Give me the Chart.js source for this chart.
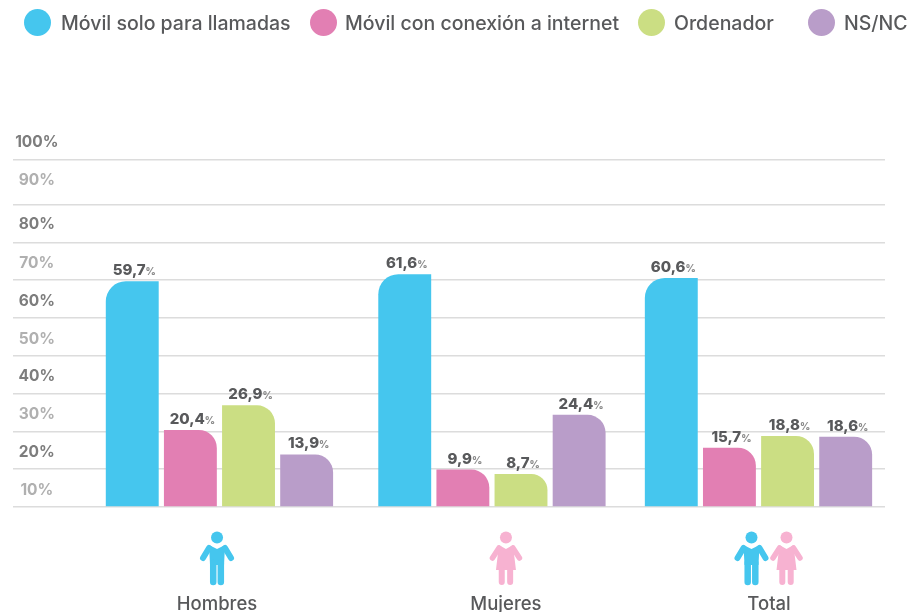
<!DOCTYPE html>
<html lang="es">
<head>
<meta charset="utf-8">
<title>Móvil y ordenador</title>
<script src="https://cdn.jsdelivr.net/npm/chart.js@4"></script>
<style>
  html,body{margin:0;padding:0;background:#fff;}
  #wrap{position:relative;width:912px;height:612px;overflow:hidden;}
  canvas{position:absolute;left:0;top:0;}
  .lg{position:absolute;top:9px;height:27px;font:500 19.5px/27px Inter,sans-serif;color:#58595b;white-space:nowrap;}
  .lg i{position:absolute;left:0;top:0;width:27px;height:27px;border-radius:50%;}
  .lg span{position:absolute;top:1px;}
</style>
</head>
<body>
<div id="wrap"><canvas id="chart" width="912" height="612"></canvas></div>
<script>
const categories = ['Hombres','Mujeres','Total'];
const seriesNames = ['Móvil solo para llamadas','Móvil con conexión a internet','Ordenador','NS/NC'];
const movilLlamadas = [59.7,61.6,60.6];
const movilInternet = [20.4,9.9,15.7];
const ordenador = [26.9,8.7,18.8];
const nsnc = [13.9,24.4,18.6];
const tickLabels = ['10%','20%','30%','40%','50%','60%','70%','80%','90%','100%'];

const gridValues = [0,10,20,30,40,50,60,70,80,91.8];
const tickLabelValues = [4.45,14.45,24.45,34.45,44.45,54.45,64.45,74.65,86.45,96.45];
const tickColors = ['#b0b0b0','#7d7d7d','#b0b0b0','#7d7d7d','#b0b0b0','#7d7d7d','#b0b0b0','#7d7d7d','#b0b0b0','#7d7d7d'];
const groupPositions = [0,1.011,2];
const labelPositions = [-0.009,1.063,2.039];

const colors = ['#45c6ee','#e27fb3','#cbde83','#b99dc9'];
const radii = [{topLeft:20,topRight:0},{topLeft:0,topRight:18},{topLeft:0,topRight:18},{topLeft:0,topRight:18}];
const legendLeft = [[24,61],[310,345],[638,674],[808,844]];
const icons = [['man'],['woman'],['man','woman']];

// legend
const wrap = document.getElementById('wrap');
seriesNames.forEach((n,i)=>{
  const d = document.createElement('div');
  d.className = 'lg';
  d.style.left = legendLeft[i][0]+'px';
  d.innerHTML = `<i style="background:${colors[i]}"></i><span style="left:${legendLeft[i][1]-legendLeft[i][0]}px">${n}</span>`;
  wrap.appendChild(d);
});

function drawMan(ctx,x){
  ctx.fillStyle = ctx.strokeStyle = '#45c6ee';
  ctx.lineCap = 'round'; ctx.lineJoin = 'round';
  ctx.beginPath(); ctx.arc(x,537.5,6,0,Math.PI*2); ctx.fill();
  ctx.beginPath(); ctx.moveTo(x-8,545); ctx.lineTo(x,549); ctx.lineTo(x+8,545);
  ctx.lineTo(x+7,565); ctx.lineTo(x-7,565); ctx.closePath(); ctx.fill();
  ctx.lineWidth = 6;
  ctx.beginPath(); ctx.moveTo(x-8,548); ctx.lineTo(x-14,558); ctx.moveTo(x+8,548); ctx.lineTo(x+14,558); ctx.stroke();
  ctx.lineWidth = 6.5;
  ctx.beginPath(); ctx.moveTo(x-3.8,563); ctx.lineTo(x-3.8,582); ctx.moveTo(x+3.8,563); ctx.lineTo(x+3.8,582); ctx.stroke();
}
function drawWoman(ctx,x){
  ctx.fillStyle = ctx.strokeStyle = '#f7b2d1';
  ctx.lineCap = 'round'; ctx.lineJoin = 'round';
  ctx.beginPath(); ctx.arc(x,537.5,6,0,Math.PI*2); ctx.fill();
  ctx.beginPath(); ctx.moveTo(x-7,545); ctx.lineTo(x,549); ctx.lineTo(x+7,545);
  ctx.lineTo(x+10,570); ctx.lineTo(x-10,570); ctx.closePath(); ctx.fill();
  ctx.lineWidth = 5.5;
  ctx.beginPath(); ctx.moveTo(x-7,548); ctx.lineTo(x-13.5,558); ctx.moveTo(x+7,548); ctx.lineTo(x+13.5,558); ctx.stroke();
  ctx.lineWidth = 6;
  ctx.beginPath(); ctx.moveTo(x-4.2,570); ctx.lineTo(x-4.2,582); ctx.moveTo(x+4.2,570); ctx.lineTo(x+4.2,582); ctx.stroke();
}

// little person icons under the bars
const iconPlugin = {
  id:'iconPlugin',
  afterDraw(chart){
    const ctx = chart.ctx, sx = chart.scales.x;
    ctx.save();
    labelPositions.forEach((p,i)=>{
      const cx = sx.getPixelForValue(p);
      const set = icons[i];
      set.forEach((k,j)=>{
        const x = set.length===2 ? cx + (j===0?-17.5:17.5) : cx;
        if(k==='man') drawMan(ctx,x); else drawWoman(ctx,x);
      });
    });
    ctx.restore();
  }
};

// value labels: big number, small % sign
const valuePlugin = {
  id:'valuePlugin',
  afterDatasetsDraw(chart){
    const ctx = chart.ctx;
    ctx.save();
    ctx.textBaseline = 'alphabetic';
    chart.data.datasets.forEach((ds,di)=>{
      chart.getDatasetMeta(di).data.forEach((bar,i)=>{
        const num = ds.data[i].y.toFixed(1).replace('.',',');
        ctx.font = '800 15px Inter, sans-serif';
        const w1 = ctx.measureText(num).width;
        ctx.font = '800 10px Inter, sans-serif';
        const w2 = ctx.measureText('%').width;
        const left = bar.x + 2 - (w1+w2)/2, y = bar.y - 6;
        ctx.fillStyle = '#58595b';
        ctx.font = '800 15px Inter, sans-serif';
        ctx.textAlign = 'left';
        ctx.fillText(num,left,y);
        ctx.fillStyle = '#8a8a8a';
        ctx.font = '800 10px Inter, sans-serif';
        ctx.fillText('%',left+w1,y);
      });
    });
    ctx.restore();
  }
};

const seriesValues = [movilLlamadas,movilInternet,ordenador,nsnc];

new Chart(document.getElementById('chart'),{
  type:'bar',
  data:{
    datasets: seriesNames.map((n,i)=>({
      label:n,
      data: seriesValues[i].map((v,j)=>({x:groupPositions[j],y:v})),
      backgroundColor:colors[i],
      borderRadius:radii[i],
      borderSkipped:false,
      categoryPercentage:0.884,
      barPercentage:0.91
    }))
  },
  options:{
    responsive:false,
    animation:false,
    layout:{padding:{left:13,right:27,top:129,bottom:0}},
    plugins:{legend:{display:false},tooltip:{enabled:false}},
    scales:{
      x:{
        type:'linear',
        offset:false,
        min:-0.766,
        max:2.4694,
        afterBuildTicks(s){ s.ticks = labelPositions.map(v=>({value:v})); },
        afterFit(s){ s.height = 105; },
        grid:{display:false,drawTicks:false,offset:false},
        border:{display:false},
        ticks:{
          autoSkip:false,maxRotation:0,padding:86,color:'#58595b',
          font:{family:'Inter, sans-serif',size:18.5,weight:'500'},
          callback:(v,i)=>categories[i]
        }
      },
      y:{
        min:0,max:100,
        afterBuildTicks(s){ s.ticks = gridValues.map(v=>({value:v})); },
        afterFit(s){ s.width = 0; },
        grid:{color:'#dcdcdc',lineWidth:1.5,drawTicks:false},
        border:{display:false},
        ticks:{display:false,autoSkip:false}
      },
      yLabels:{
        position:'left',
        min:0,max:100,
        afterBuildTicks(s){ s.ticks = tickLabelValues.map(v=>({value:v})); },
        // axis has no width of its own, labels sit over the plot, so no clipping to the box
        afterFit(s){ s.width = 0; s._computeLabelArea = ()=>undefined; },
        grid:{display:false,drawTicks:false},
        border:{display:false},
        ticks:{
          autoSkip:false,crossAlign:'center',padding:-45.5,
          color:c=>tickColors[c.index],
          font:{family:'Inter, sans-serif',size:15.5,weight:'700'},
          callback:(v,i)=>tickLabels[i]
        }
      }
    }
  },
  plugins:[iconPlugin,valuePlugin]
});
</script>
</body>
</html>
